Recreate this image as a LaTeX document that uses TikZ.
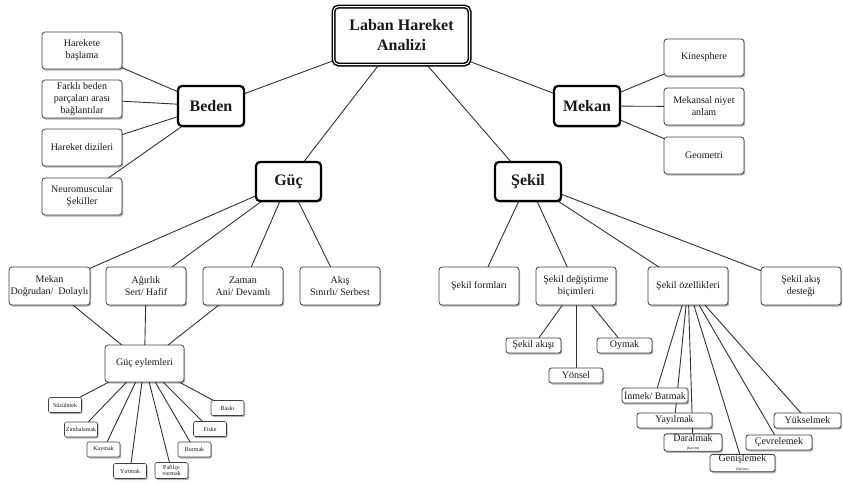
\documentclass[tikz,border=0pt]{standalone}
\usepackage{fontspec}
\setmainfont{Liberation Serif}
\usetikzlibrary{shadows,backgrounds}
\begin{document}
\begin{tikzpicture}[x=1pt,y=-1pt,
 every node/.style={font=\fontsize{10}{12}\selectfont, text=black!90},
 shad/.style={drop shadow={shadow xshift=1.2pt,shadow yshift=-1.6pt,opacity=0.3,fill=black}},
 plainbox/.style={draw=black!75,line width=0.8pt,rounded corners=3pt,fill=white,align=center,inner sep=1pt,shad},
 catbox/.style={draw=black,line width=2.2pt,rounded corners=4pt,fill=white,align=center,inner sep=1pt,shad,font=\fontsize{16}{20}\selectfont\bfseries},
 mainbox/.style={draw=black,line width=1.5pt,double=white,double distance=1pt,rounded corners=5pt,fill=white,align=center,inner sep=1pt,shad,font=\fontsize{16}{20}\selectfont\bfseries},
 tinybox/.style={plainbox,line width=0.6pt,rounded corners=2pt,font=\fontsize{6}{6.5}\selectfont,minimum width=33,minimum height=15},
 subbox/.style={plainbox,rounded corners=2.5pt,minimum height=15},
 link/.style={draw=black!80,line width=0.9pt}
]
\useasboundingbox (0,0) rectangle (843,482);

% main
\node[mainbox, minimum width=136, minimum height=58] (L) at (401.5,35.5) {Laban Hareket\\Analizi};
\node[catbox, minimum width=66, minimum height=40] (B) at (211,106) {Beden};
\node[catbox, minimum width=66, minimum height=40] (M) at (587,106) {Mekan};
\node[catbox, minimum width=65, minimum height=39] (G) at (288.5,181.5) {Güç};
\node[catbox, minimum width=66, minimum height=39] (S) at (528,181.5) {Şekil};

% Beden
\node[plainbox, minimum width=80, minimum height=37] (b1) at (82,50.5) {Harekete\\başlama};
\node[plainbox, minimum width=80, minimum height=38] (b2) at (82,99) {Farklı beden\\parçaları arası\\bağlantılar};
\node[plainbox, minimum width=80, minimum height=37] (b3) at (82,147.5) {Hareket dizileri};
\node[plainbox, minimum width=80, minimum height=37] (b4) at (82,196.5) {Neuromuscular\\Şekiller};

% Mekan
\node[plainbox, minimum width=80, minimum height=37] (m1) at (704,57.5) {Kinesphere};
\node[plainbox, minimum width=80, minimum height=37] (m2) at (704,106.5) {Mekansal niyet\\anlam};
\node[plainbox, minimum width=80, minimum height=37] (m3) at (704,155.5) {Geometri};

% Güç
\node[plainbox, minimum width=81, minimum height=38] (g1) at (49.5,286) {Mekan\\Doğrudan/\ \ Dolaylı};
\node[plainbox, minimum width=80, minimum height=38] (g2) at (146,286) {Ağırlık\\Sert/ Hafif};
\node[plainbox, minimum width=80, minimum height=38] (g3) at (243,286) {Zaman\\Ani/ Devamlı};
\node[plainbox, minimum width=80, minimum height=38] (g4) at (340,286) {Akış\\Sınırlı/ Serbest};
\node[plainbox, minimum width=79, minimum height=37] (ge) at (144.5,363.5) {Güç eylemleri};

\node[tinybox] (e1) at (65,405) {Süzülmek};
\node[tinybox] (e2) at (81,429.5) {Zımbalamak};
\node[tinybox] (e3) at (103.5,449.5) {Kaymak};
\node[tinybox] (e4) at (130,471) {Yırtmak};
\node[tinybox, minimum height=16] (e5) at (171.5,470.5) {Pafilçe\\vurmak};
\node[tinybox] (e6) at (194.5,449.5) {Burmak};
\node[tinybox] (e7) at (210,429) {Fiske};
\node[tinybox] (e8) at (227.5,408) {Baskı};

% Şekil
\node[plainbox, minimum width=80, minimum height=38] (s1) at (479,286) {Şekil formları};
\node[plainbox, minimum width=80, minimum height=38] (s2) at (576,286) {Şekil değiştirme\\biçimleri};
\node[plainbox, minimum width=80, minimum height=38] (s3) at (688,286) {Şekil özellikleri};
\node[plainbox, minimum width=80, minimum height=38] (s4) at (801,286) {Şekil akış\\desteği};

\node[subbox, minimum width=55] (d1) at (533.5,345.5) {Şekil akışı};
\node[subbox, minimum width=55] (d2) at (624.5,345.5) {Oymak};
\node[subbox, minimum width=54] (d3) at (576,375.5) {Yönsel};

\node[subbox, minimum width=66] (o1) at (655,395.5) {İnmek/ Batmak};
\node[subbox, minimum width=75] (o2) at (674.5,420.5) {Yayılmak};
\node[subbox, minimum width=58, inner sep=0.5pt] (o3) at (693,442.5) {Daralmak\\[-3.5pt]{\fontsize{4}{4}\selectfont(hacim)}};
\node[subbox, minimum width=65, minimum height=14, inner sep=0.5pt] (o4) at (742.5,463) {Genişlemek\\[-3.5pt]{\fontsize{4}{4}\selectfont(hacim)}};
\node[subbox, minimum width=66] (o5) at (779,442.5) {Çevrelemek};
\node[subbox, minimum width=67] (o6) at (807.5,420.5) {Yükselmek};

\begin{pgfonlayer}{background}
\draw[link] (L.center) -- (B.center);
\draw[link] (L.center) -- (M.center);
\draw[link] (L.center) -- (G.center);
\draw[link] (L.center) -- (S.center);
\foreach \n in {b1,b2,b3,b4} \draw[link] (B.center) -- (\n.center);
\foreach \n in {m1,m2,m3} \draw[link] (M.center) -- (\n.center);
\foreach \n in {g1,g2,g3,g4} \draw[link] (G.center) -- (\n.center);
\foreach \n in {g1,g2,g3} \draw[link] (\n.center) -- (ge.center);
\foreach \n in {e1,e2,e3,e4,e5,e6,e7,e8} \draw[link] (ge.center) -- (\n.center);
\foreach \n in {s1,s2,s3,s4} \draw[link] (S.center) -- (\n.center);
\foreach \n in {d1,d2,d3} \draw[link] (s2.center) -- (\n.center);
\foreach \n in {o1,o2,o3,o4,o5,o6} \draw[link] (s3.center) -- (\n.center);
\end{pgfonlayer}
\end{tikzpicture}
\end{document}
